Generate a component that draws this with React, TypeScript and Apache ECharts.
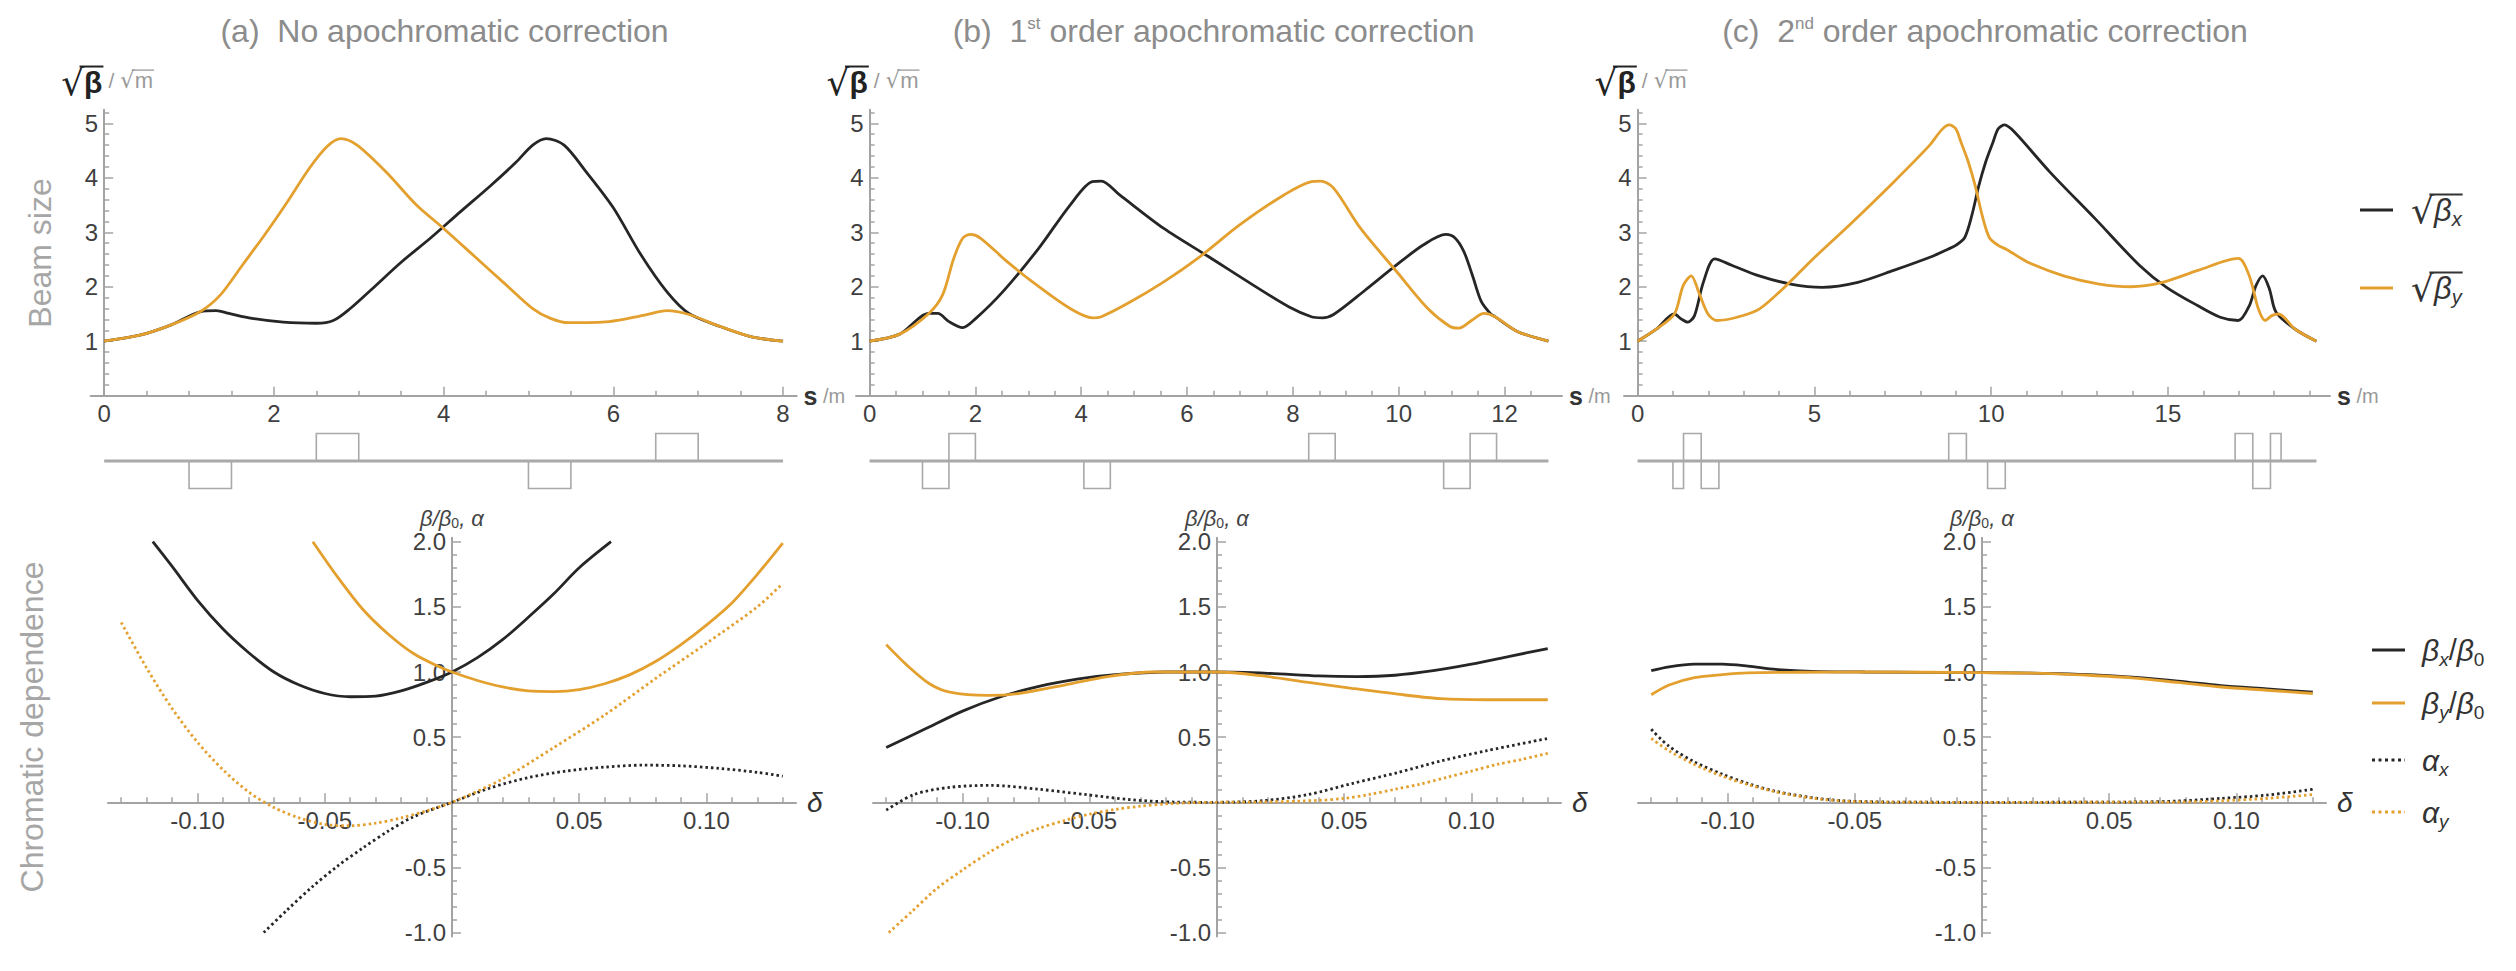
import React, { useEffect, useRef } from 'react';
import * as echarts from 'echarts';

// ---------------- DATA ----------------
const titlesRich = [
  '{t|(a)  No apochromatic correction}',
  '{t|(b)  1}{sup|st}{t| order apochromatic correction}',
  '{t|(c)  2}{sup|nd}{t| order apochromatic correction}',
];
const latticeLengths = [8, 12.83, 19.2];

// sqrt(beta) [sqrt(m)] along s [m]
const sqrtBetaX_a = [[0,1.0],[0.42,1.11],[0.79,1.30],[1.13,1.54],[1.32,1.56],[1.47,1.51],[1.74,1.42],[2.11,1.35],[2.5,1.33],[2.7,1.38],[2.9,1.6],[3.15,1.95],[3.5,2.45],[3.85,2.9],[4.2,3.38],[4.55,3.85],[4.85,4.28],[5.05,4.6],[5.21,4.72],[5.42,4.60],[5.68,4.11],[6.0,3.45],[6.32,2.6],[6.63,1.91],[6.89,1.51],[7.26,1.27],[7.63,1.08],[8.0,1.0]];
const sqrtBetaY_a = [[0,1.0],[0.42,1.11],[0.79,1.30],[1.13,1.54],[1.37,1.85],[1.63,2.40],[1.89,2.95],[2.16,3.56],[2.42,4.18],[2.63,4.58],[2.79,4.72],[2.98,4.60],[3.32,4.11],[3.68,3.50],[4.0,3.07],[4.37,2.55],[4.74,2.03],[5.05,1.60],[5.26,1.42],[5.47,1.34],[5.95,1.36],[6.37,1.48],[6.63,1.56],[6.89,1.49],[7.26,1.27],[7.63,1.08],[8.0,1.0]];

const sqrtBetaX_b = [[0,1.0],[0.57,1.13],[1.12,1.51],[1.29,1.51],[1.50,1.36],[1.76,1.25],[2.01,1.42],[2.52,1.91],[3.20,2.71],[3.79,3.50],[4.21,3.93],[4.38,3.94],[4.72,3.69],[5.56,3.07],[6.41,2.55],[7.25,2.03],[7.93,1.63],[8.35,1.45],[8.56,1.43],[8.77,1.49],[9.37,1.94],[9.96,2.40],[10.47,2.77],[10.89,2.96],[11.06,2.90],[11.23,2.65],[11.39,2.22],[11.56,1.73],[11.73,1.51],[11.82,1.45],[12.24,1.18],[12.83,1.0]];
const sqrtBetaY_b = [[0,1.0],[0.57,1.13],[1.12,1.51],[1.38,1.85],[1.59,2.52],[1.76,2.89],[1.91,2.96],[2.10,2.89],[2.60,2.46],[3.20,2.0],[3.79,1.60],[4.21,1.43],[4.38,1.45],[4.89,1.70],[5.56,2.09],[6.24,2.55],[7.0,3.14],[7.84,3.69],[8.35,3.93],[8.52,3.94],[8.77,3.81],[9.28,3.07],[9.96,2.28],[10.55,1.60],[10.97,1.27],[11.14,1.24],[11.39,1.39],[11.61,1.51],[11.82,1.45],[12.24,1.18],[12.83,1.0]];

const sqrtBetaX_c = [[0,1.0],[0.53,1.22],[1.04,1.50],[1.23,1.41],[1.42,1.35],[1.61,1.47],[1.86,2.08],[2.18,2.51],[2.68,2.39],[3.44,2.20],[4.33,2.05],[5.22,1.99],[6.23,2.08],[7.24,2.30],[8.38,2.57],[8.75,2.68],[9.0,2.76],[9.25,2.9],[9.45,3.3],[9.65,3.85],[9.85,4.3],[10.05,4.65],[10.2,4.9],[10.38,4.97],[10.66,4.84],[11.67,4.10],[12.94,3.25],[14.2,2.39],[14.96,1.99],[15.85,1.65],[16.48,1.44],[16.99,1.38],[17.30,1.65],[17.49,2.02],[17.68,2.20],[17.87,1.96],[18.06,1.53],[18.6,1.22],[19.2,1.0]];
const sqrtBetaY_c = [[0,1.0],[0.53,1.22],[1.04,1.50],[1.29,2.02],[1.52,2.20],[1.73,1.90],[1.99,1.50],[2.24,1.38],[2.81,1.44],[3.44,1.59],[4.20,2.02],[4.96,2.51],[5.97,3.12],[7.24,3.92],[8.25,4.59],[8.6,4.88],[8.82,4.97],[9.0,4.9],[9.15,4.65],[9.35,4.3],[9.55,3.85],[9.75,3.3],[9.95,2.9],[10.2,2.76],[10.45,2.68],[11.04,2.45],[12.05,2.20],[13.06,2.05],[13.95,2.0],[14.84,2.08],[15.85,2.30],[16.99,2.52],[17.30,2.20],[17.56,1.59],[17.75,1.38],[17.94,1.47],[18.13,1.50],[18.6,1.22],[19.2,1.0]];

// quadrupoles: [s start, s end, polarity]
const magnets_a = [[1.0,1.5,-1],[2.5,3.0,1],[5.0,5.5,-1],[6.5,7.0,1]];
const magnets_b = [[1.0,1.5,-1],[1.5,2.0,1],[4.05,4.55,-1],[8.3,8.8,1],[10.85,11.35,-1],[11.35,11.85,1]];
const magnets_c = [[1.0,1.3,-1],[1.3,1.8,1],[1.8,2.3,-1],[8.8,9.3,1],[9.9,10.4,-1],[16.9,17.4,1],[17.4,17.9,-1],[17.9,18.2,1]];

// chromatic dependence vs delta
const betaXRel_a = [[-0.1176,2.0],[-0.11,1.81],[-0.10,1.55],[-0.09,1.33],[-0.08,1.15],[-0.07,1.0],[-0.06,0.9],[-0.05,0.835],[-0.04,0.81],[-0.03,0.815],[-0.02,0.855],[-0.01,0.92],[0,1.0],[0.01,1.11],[0.02,1.25],[0.03,1.42],[0.04,1.6],[0.05,1.8],[0.0625,2.0]];
const betaYRel_a = [[-0.0547,2.0],[-0.045,1.73],[-0.035,1.48],[-0.025,1.29],[-0.015,1.14],[-0.005,1.04],[0,1.0],[0.01,0.935],[0.02,0.885],[0.03,0.855],[0.04,0.85],[0.05,0.865],[0.06,0.91],[0.07,0.98],[0.08,1.08],[0.09,1.21],[0.10,1.36],[0.11,1.53],[0.12,1.75],[0.13,1.99]];
const alphaX_a = [[-0.074,-1.0],[-0.065,-0.83],[-0.055,-0.65],[-0.045,-0.49],[-0.035,-0.35],[-0.025,-0.22],[-0.015,-0.11],[0,0],[0.015,0.11],[0.03,0.19],[0.045,0.24],[0.06,0.27],[0.075,0.285],[0.09,0.28],[0.105,0.26],[0.12,0.23],[0.13,0.2]];
const alphaY_a = [[-0.13,1.38],[-0.12,1.03],[-0.11,0.72],[-0.10,0.46],[-0.09,0.25],[-0.08,0.08],[-0.07,-0.04],[-0.06,-0.12],[-0.05,-0.17],[-0.04,-0.18],[-0.03,-0.16],[-0.02,-0.12],[-0.01,-0.065],[0,0],[0.02,0.18],[0.04,0.42],[0.06,0.67],[0.08,0.95],[0.10,1.22],[0.12,1.5],[0.13,1.68]];

const betaXRel_b = [[-0.13,0.42],[-0.115,0.56],[-0.10,0.70],[-0.085,0.81],[-0.07,0.89],[-0.055,0.945],[-0.04,0.98],[-0.02,1.0],[0,1.0],[0.02,0.99],[0.04,0.97],[0.055,0.965],[0.07,0.975],[0.085,1.01],[0.10,1.06],[0.115,1.12],[0.13,1.18]];
const betaYRel_b = [[-0.13,1.21],[-0.122,1.055],[-0.113,0.91],[-0.105,0.845],[-0.09,0.82],[-0.078,0.835],[-0.06,0.90],[-0.043,0.965],[-0.025,1.0],[0,1.0],[0.018,0.97],[0.036,0.92],[0.053,0.875],[0.071,0.83],[0.088,0.795],[0.106,0.787],[0.13,0.787]];
const alphaX_b = [[-0.13,-0.06],[-0.119,0.06],[-0.105,0.115],[-0.089,0.13],[-0.07,0.10],[-0.052,0.06],[-0.034,0.02],[-0.017,0.002],[0,0],[0.018,0.012],[0.036,0.06],[0.053,0.144],[0.071,0.228],[0.088,0.317],[0.106,0.396],[0.13,0.49]];
const alphaY_b = [[-0.129,-1.0],[-0.12,-0.84],[-0.11,-0.66],[-0.10,-0.52],[-0.09,-0.39],[-0.08,-0.28],[-0.07,-0.20],[-0.06,-0.14],[-0.05,-0.09],[-0.04,-0.055],[-0.03,-0.03],[-0.02,-0.012],[-0.01,-0.003],[0,0],[0.02,0.003],[0.04,0.015],[0.05,0.03],[0.06,0.06],[0.07,0.10],[0.08,0.14],[0.09,0.19],[0.10,0.24],[0.11,0.29],[0.12,0.33],[0.13,0.375]];

const betaXRel_c = [[-0.13,1.01],[-0.123,1.04],[-0.113,1.06],[-0.102,1.06],[-0.092,1.045],[-0.081,1.02],[-0.067,1.005],[-0.046,1.0],[0,0.995],[0.024,0.99],[0.042,0.98],[0.059,0.96],[0.077,0.93],[0.094,0.895],[0.112,0.87],[0.13,0.845]];
const betaYRel_c = [[-0.13,0.825],[-0.123,0.90],[-0.113,0.957],[-0.102,0.98],[-0.092,0.993],[-0.072,0.998],[-0.046,1.0],[0,0.995],[0.024,0.99],[0.042,0.975],[0.059,0.955],[0.077,0.92],[0.094,0.885],[0.112,0.86],[0.13,0.835]];
const alphaX_c = [[-0.13,0.56],[-0.123,0.43],[-0.113,0.31],[-0.102,0.215],[-0.092,0.144],[-0.081,0.084],[-0.067,0.036],[-0.055,0.012],[-0.037,0.002],[0,0],[0.059,0.002],[0.077,0.01],[0.094,0.03],[0.112,0.055],[0.13,0.10]];
const alphaY_c = [[-0.13,0.49],[-0.123,0.395],[-0.113,0.29],[-0.102,0.20],[-0.092,0.136],[-0.081,0.08],[-0.067,0.033],[-0.055,0.01],[-0.037,0.001],[0,0],[0.077,0.002],[0.094,0.012],[0.112,0.03],[0.13,0.06]];

// tick labels
const sMajorTicks = [[0,2,4,6,8],[0,2,4,6,8,10,12],[0,5,10,15]];
const sMinorStep = [0.5, 0.5, 1];
const sMinorMax = [7.5, 12.5, 19];
const beamMajorTicks = [1,2,3,4,5];
const deltaMajorTicks = [-0.1,-0.05,0.05,0.1];
const chromMajorTicks = [-1,-0.5,0.5,1,1.5,2];

// ---------------- STYLE / LAYOUT ----------------
const BLACK = '#262626';
const ORANGE = '#E3A02E';
const AXIS = '#a3a3a3';
const TICKLBL = '#3f3f3f';
const STRIP = '#a9a9a9';
const FONT = '"Liberation Sans", Arial, Helvetica, sans-serif';
const DJ = '"DejaVu Sans", sans-serif';

const TOP_LEFT = [90.6, 856, 1624];
const TOP_W = 706;
const TOP_Y = 109.7;
const TOP_H = 286;
const TOP_YMAX = 5.25;
const STRIP_Y = 433.5;
const STRIP_H = 55;
const BOT_LEFT = [108, 873, 1638];
const BOT_W = 688;
const BOT_Y = 537.8;
const BOT_H = 398.7;
const BOT_YMIN = -1.03;
const BOT_YMAX = 2.03;
const DMAX = 0.1352;

function minorTicks(from: number, to: number, step: number, skip: number): number[] {
  const out: number[] = [];
  const n = Math.round((to - from) / step);
  for (let i = 0; i <= n; i++) {
    const v = +(from + i * step).toFixed(6);
    const r = v / skip;
    if (Math.abs(r - Math.round(r)) < 1e-6) continue;
    out.push(v);
  }
  return out;
}

function mkAxis(o: any) {
  return {
    type: 'value', gridIndex: o.grid, min: o.min, max: o.max, position: o.pos,
    splitLine: { show: false }, splitArea: { show: false },
    axisLine: { show: !!o.major, onZero: false, lineStyle: { color: AXIS, width: 2 } },
    axisTick: { show: true, inside: true, length: o.major ? 9 : 5, customValues: o.ticks, lineStyle: { color: AXIS, width: 1.5 } },
    axisLabel: o.major ? { show: true, customValues: o.labels, formatter: o.fmt, color: TICKLBL, fontSize: 24, fontFamily: FONT, margin: o.margin ?? 6 } : { show: false },
    name: o.name || '', nameLocation: 'end', nameGap: o.nameGap ?? 8, nameTextStyle: { rich: o.nameRich || {} },
    nameMoveOverlap: false, silent: true,
  };
}
function hiddenAxis(grid: number, min: number, max: number) {
  return { type: 'value', gridIndex: grid, min, max, show: false };
}

type Tok = { t: string; size: number; italic?: boolean; bold?: boolean; color: string; dy?: number; fam?: string; over?: boolean; radical?: boolean };

function buildRow(x0: number, y: number, toks: Tok[], ctx: CanvasRenderingContext2D) {
  const els: any[] = [];
  let x = x0;
  let overStart: number | null = null;
  let overEnd = 0, overY = 0, overW = 1.5, overColor = '#333';
  for (const tk of toks) {
    const fam = tk.fam || FONT;
    ctx.font = `${tk.italic ? 'italic ' : ''}${tk.bold ? 'bold ' : ''}${tk.size}px ${fam}`;
    const w = ctx.measureText(tk.t).width;
    els.push({
      type: 'text', x, y: y + (tk.dy || 0), silent: true,
      style: { text: tk.t, fontSize: tk.size, fontFamily: fam, fontStyle: tk.italic ? 'italic' : 'normal', fontWeight: tk.bold ? 'bold' : 'normal', fill: tk.color, align: 'left', textAlign: 'left', verticalAlign: 'middle', textVerticalAlign: 'middle' },
    });
    if (tk.radical) { overStart = x + w * 0.8; overY = y - tk.size * 0.43; overColor = tk.color; overW = Math.max(1.3, tk.size * 0.055); }
    if (tk.over) overEnd = x + w + 1;
    x += w;
  }
  if (overStart != null) {
    els.push({ type: 'line', silent: true, shape: { x1: overStart, y1: overY, x2: overEnd, y2: overY }, style: { stroke: overColor, lineWidth: overW } });
  }
  return { els, width: x - x0 };
}

function buildOption() {
  const ctx = document.createElement('canvas').getContext('2d') as CanvasRenderingContext2D;
  const grid: any[] = [], xAxis: any[] = [], yAxis: any[] = [], series: any[] = [], elements: any[] = [];
  const addGrid = (left: number, top: number, width: number, height: number) => {
    grid.push({ left, top, width, height, containLabel: false, outerBoundsMode: 'none' });
    return grid.length - 1;
  };

  const topData = [[sqrtBetaX_a, sqrtBetaY_a], [sqrtBetaX_b, sqrtBetaY_b], [sqrtBetaX_c, sqrtBetaY_c]];
  const magnets = [magnets_a, magnets_b, magnets_c];
  const botData = [
    [betaXRel_a, betaYRel_a, alphaX_a, alphaY_a],
    [betaXRel_b, betaYRel_b, alphaX_b, alphaY_b],
    [betaXRel_c, betaYRel_c, alphaX_c, alphaY_c],
  ];

  for (let p = 0; p < 3; p++) {
    const L = latticeLengths[p];
    const sMin = -0.02 * L, sMax = L * 1.02;
    const zeroX = TOP_LEFT[p] + TOP_W * (0.02 / 1.04);

    // ---- top: beam size (data grid with s axis) ----
    let g = addGrid(TOP_LEFT[p], TOP_Y, TOP_W, TOP_H);
    let xi = xAxis.length, yi = yAxis.length;
    xAxis.push(mkAxis({ grid: g, min: sMin, max: sMax, pos: 'bottom', major: true, ticks: sMajorTicks[p], labels: sMajorTicks[p], fmt: (v: number) => String(v),
      name: '{s|s}{u| /m}', nameGap: 7, nameRich: { s: { fontSize: 25, fontWeight: 'bold', color: '#333', fontFamily: FONT }, u: { fontSize: 20, color: '#999', fontFamily: FONT } } }));
    xAxis.push(mkAxis({ grid: g, min: sMin, max: sMax, pos: 'bottom', major: false, ticks: minorTicks(0, sMinorMax[p], sMinorStep[p], sMajorTicks[p][1]) }));
    yAxis.push(hiddenAxis(g, 0, TOP_YMAX));
    series.push({ type: 'line', name: 'sqrt(beta_x)', xAxisIndex: xi, yAxisIndex: yi, data: topData[p][0], showSymbol: false, symbol: 'none', smooth: 0.3, lineStyle: { color: BLACK, width: 2.8 }, silent: true, z: 3 });
    series.push({ type: 'line', name: 'sqrt(beta_y)', xAxisIndex: xi, yAxisIndex: yi, data: topData[p][1], showSymbol: false, symbol: 'none', smooth: 0.3, lineStyle: { color: ORANGE, width: 2.8 }, silent: true, z: 4 });

    // ---- top: vertical axis placed at s = 0 ----
    g = addGrid(zeroX, TOP_Y, TOP_LEFT[p] + TOP_W - zeroX, TOP_H);
    xAxis.push(hiddenAxis(g, 0, 1));
    yAxis.push(mkAxis({ grid: g, min: 0, max: TOP_YMAX, pos: 'left', major: true, ticks: beamMajorTicks, labels: beamMajorTicks, fmt: (v: number) => String(v) }));
    yAxis.push(mkAxis({ grid: g, min: 0, max: TOP_YMAX, pos: 'left', major: false, ticks: minorTicks(0.2, 5.2, 0.2, 1) }));

    // ---- magnet lattice strip ----
    g = addGrid(TOP_LEFT[p], STRIP_Y, TOP_W, STRIP_H);
    xi = xAxis.length; yi = yAxis.length;
    xAxis.push(hiddenAxis(g, sMin, sMax));
    yAxis.push(hiddenAxis(g, -1, 1));
    series.push({
      type: 'custom', xAxisIndex: xi, yAxisIndex: yi, data: magnets[p], silent: true, z: 2,
      renderItem: (_params: any, api: any) => {
        const a = api.coord([api.value(0), 0]);
        const b = api.coord([api.value(1), api.value(2)]);
        return { type: 'rect', shape: { x: a[0], y: Math.min(a[1], b[1]), width: b[0] - a[0], height: Math.abs(b[1] - a[1]) }, style: { fill: 'none', stroke: STRIP, lineWidth: 1.6 } };
      },
    });
    series.push({ type: 'line', xAxisIndex: xi, yAxisIndex: yi, data: [[0, 0], [L, 0]], showSymbol: false, symbol: 'none', lineStyle: { color: STRIP, width: 3 }, silent: true, z: 3 });

    // ---- bottom: chromatic dependence (data grid) ----
    g = addGrid(BOT_LEFT[p], BOT_Y, BOT_W, BOT_H);
    xi = xAxis.length; yi = yAxis.length;
    xAxis.push(hiddenAxis(g, -DMAX, DMAX));
    yAxis.push(hiddenAxis(g, BOT_YMIN, BOT_YMAX));
    const styles = [
      { color: BLACK, type: 'solid' }, { color: ORANGE, type: 'solid' },
      { color: BLACK, type: [2.5, 3] }, { color: ORANGE, type: [2.5, 3] },
    ];
    const names = ['beta_x/beta_0', 'beta_y/beta_0', 'alpha_x', 'alpha_y'];
    for (let k = 0; k < 4; k++) {
      series.push({ type: 'line', name: names[k], xAxisIndex: xi, yAxisIndex: yi, data: botData[p][k], showSymbol: false, symbol: 'none', smooth: 0.3,
        lineStyle: { color: styles[k].color, width: 2.8, type: styles[k].type, cap: 'butt' }, silent: true, z: 3 + k });
    }

    // ---- bottom: delta axis at value 0 ----
    const zeroY = BOT_Y + BOT_H * (BOT_YMAX / (BOT_YMAX - BOT_YMIN));
    g = addGrid(BOT_LEFT[p], BOT_Y, BOT_W, zeroY - BOT_Y);
    xAxis.push(mkAxis({ grid: g, min: -DMAX, max: DMAX, pos: 'bottom', major: true, ticks: deltaMajorTicks, labels: deltaMajorTicks, fmt: (v: number) => v.toFixed(2),
      name: '{d|δ}', nameGap: 11, nameRich: { d: { fontSize: 28, fontStyle: 'italic', color: '#333', fontFamily: FONT } } }));
    xAxis.push(mkAxis({ grid: g, min: -DMAX, max: DMAX, pos: 'bottom', major: false, ticks: minorTicks(-0.13, 0.13, 0.01, 0.05) }));
    yAxis.push(hiddenAxis(g, 0, 1));

    // ---- bottom: vertical axis at delta = 0 ----
    const zx = BOT_LEFT[p] + BOT_W / 2;
    g = addGrid(zx, BOT_Y, BOT_W / 2, BOT_H);
    xAxis.push(hiddenAxis(g, 0, 1));
    yAxis.push(mkAxis({ grid: g, min: BOT_YMIN, max: BOT_YMAX, pos: 'left', major: true, ticks: chromMajorTicks, labels: chromMajorTicks, fmt: (v: number) => v.toFixed(1),
      name: '{g|β/β}{s|0}{g|, α}', nameGap: 8, nameRich: { g: { fontSize: 22, fontStyle: 'italic', color: '#444', fontFamily: FONT }, s: { fontSize: 14, color: '#444', fontFamily: FONT, verticalAlign: 'bottom', lineHeight: 8 } } }));
    yAxis.push(mkAxis({ grid: g, min: BOT_YMIN, max: BOT_YMAX, pos: 'left', major: false, ticks: minorTicks(-1, 2, 0.1, 0.5) }));

    // ---- y-axis name of top plot: sqrt(beta) / sqrt(m) ----
    const lx = zeroX - 43;
    const r1 = buildRow(lx, 82, [
      { t: '√', size: 36, fam: DJ, color: '#222', radical: true },
      { t: 'β', size: 30, bold: true, color: '#222', over: true },
    ], ctx);
    elements.push(...r1.els);
    const r2 = buildRow(lx + r1.width + 6, 80, [
      { t: '/ ', size: 21, color: '#9a9a9a' },
      { t: '√', size: 23, fam: DJ, color: '#9a9a9a', radical: true },
      { t: 'm', size: 22, color: '#9a9a9a', over: true },
    ], ctx);
    elements.push(...r2.els);
  }

  // ---- panel titles ----
  const titleX = [444.5, 1213.6, 1985];
  for (let p = 0; p < 3; p++) {
    elements.push({
      type: 'text', x: titleX[p], y: 31, silent: true,
      style: { text: titlesRich[p], align: 'center', textAlign: 'center', verticalAlign: 'middle', textVerticalAlign: 'middle', fill: '#8c8c8c', fontSize: 32, fontFamily: FONT,
        rich: { t: { fontSize: 32, fill: '#8c8c8c', color: '#8c8c8c', fontFamily: FONT }, sup: { fontSize: 17, fill: '#8c8c8c', color: '#8c8c8c', fontFamily: FONT, verticalAlign: 'top', lineHeight: 14 } } },
    });
  }

  // ---- side labels ----
  elements.push({ type: 'text', x: 40, y: 253, rotation: Math.PI / 2, silent: true,
    style: { text: 'Beam size', align: 'center', textAlign: 'center', verticalAlign: 'middle', textVerticalAlign: 'middle', fill: '#a6a6a6', fontSize: 32, fontFamily: FONT } });
  elements.push({ type: 'text', x: 32, y: 727, rotation: Math.PI / 2, silent: true,
    style: { text: 'Chromatic dependence', align: 'center', textAlign: 'center', verticalAlign: 'middle', textVerticalAlign: 'middle', fill: '#a6a6a6', fontSize: 32, fontFamily: FONT } });

  // ---- legends ----
  const legTop = [{ y: 210, c: BLACK, sub: 'x' }, { y: 288, c: ORANGE, sub: 'y' }];
  for (const it of legTop) {
    elements.push({ type: 'line', silent: true, shape: { x1: 2360, y1: it.y, x2: 2393, y2: it.y }, style: { stroke: it.c, lineWidth: 3 } });
    elements.push(...buildRow(2411, it.y, [
      { t: '√', size: 36, fam: DJ, color: '#333', radical: true },
      { t: 'β', size: 31, italic: true, color: '#333' },
      { t: it.sub, size: 20, italic: true, color: '#333', dy: 9, over: true },
    ], ctx).els);
  }
  const legBot = [
    { y: 650, c: BLACK, dash: null, toks: [['β', 'x'], ['β', '0']] },
    { y: 703, c: ORANGE, dash: null, toks: [['β', 'y'], ['β', '0']] },
    { y: 760, c: BLACK, dash: [3, 3.5], toks: [['α', 'x']] },
    { y: 812, c: ORANGE, dash: [3, 3.5], toks: [['α', 'y']] },
  ];
  for (const it of legBot) {
    elements.push({ type: 'line', silent: true, shape: { x1: 2372, y1: it.y, x2: 2405, y2: it.y }, style: { stroke: it.c, lineWidth: 3, lineDash: it.dash || undefined } });
    const toks: Tok[] = [];
    it.toks.forEach((pair, i) => {
      if (i > 0) toks.push({ t: '/', size: 29, color: '#333' });
      toks.push({ t: pair[0], size: 30, italic: true, color: '#333' });
      toks.push({ t: pair[1], size: 19, italic: pair[1] !== '0', color: '#333', dy: 9 });
    });
    elements.push(...buildRow(2422, it.y, toks, ctx).els);
  }

  return {
    animation: false,
    backgroundColor: '#ffffff',
    grid, xAxis, yAxis, series,
    graphic: { elements },
  };
}

export default function App() {
  const ref = useRef<HTMLDivElement>(null);
  useEffect(() => {
    if (!ref.current) return;
    const chart = echarts.init(ref.current, undefined, { renderer: 'svg' });
    chart.setOption(buildOption() as any);
    return () => chart.dispose();
  }, []);
  return <div ref={ref} style={{ position: 'absolute', left: 0, top: 0, width: 2516, height: 971, background: '#fff' }} />;
}
